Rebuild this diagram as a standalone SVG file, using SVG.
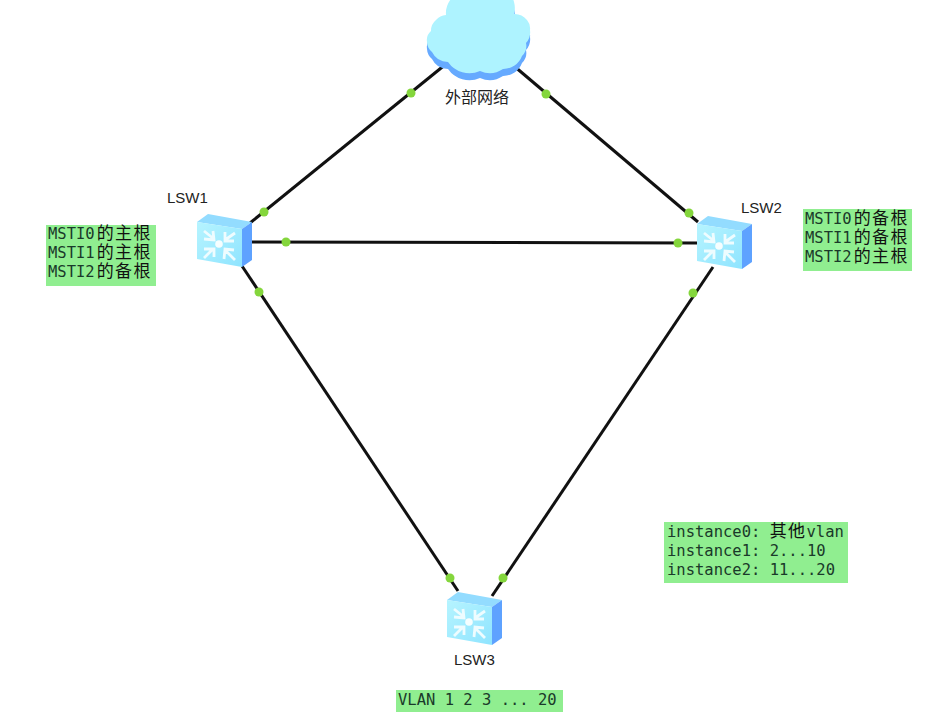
<svg xmlns="http://www.w3.org/2000/svg" width="929" height="725" viewBox="0 0 929 725">
<style>
.ln{stroke:#111;stroke-width:3;fill:none;stroke-linecap:butt}
.dot{fill:#84d63c}
.note{fill:#90ee90}
.lab{font-family:"Liberation Sans",Arial,"Noto Sans CJK SC",sans-serif;font-size:15px;fill:#222}
.cl{font-size:16px}
.m{font-family:"DejaVu Sans Mono","Liberation Mono","Noto Sans CJK SC",monospace;font-size:15.5px;fill:#1a3a2a}
.c{font-family:"Noto Sans CJK SC",sans-serif;font-size:17px;letter-spacing:1.4px;fill:#111}
.arm{stroke:#eefcff;stroke-width:2.8;fill:none}
</style>
<defs>
<linearGradient id="front" x1="0" y1="0" x2="1" y2="1"><stop offset="0" stop-color="#b6f4ff"/><stop offset="1" stop-color="#8fe4ff"/></linearGradient>
<path id="puff" d="M448,62 A18,18 0 0 1 432,52 A14,14 0 0 1 427,42 A12,12 0 0 1 431,31 A14,14 0 0 1 436,20 A14,14 0 0 1 446,15 A22,22 0 0 1 462,-8 L508,-8 A22,22 0 0 1 514,14 A16,16 0 0 1 527,20 A13,13 0 0 1 530,30 A16,16 0 0 1 526,43 A14,14 0 0 1 522,56 A20,20 0 0 1 503,69 A24,24 0 0 1 480,71 A26,26 0 0 1 448,62Z"/>
<g id="sw">
<polygon points="0,8 11,0 55,8 45,15" fill="#93dcff"/>
<polygon points="45,15 55,8 55,46 45,53" fill="#5ea2ff"/>
<polygon points="0,8 45,15 45,53 0,45" fill="url(#front)"/>
<circle cx="22" cy="30" r="3.8" fill="#f6feff"/>
<path class="arm" d="M7,17 L17,25 M7,25 L17,26 L16,17 M38,19 L28,26 M28,18 L28,27 L37,27 M7,44 L16,35 M7,35 L17,35 L17,43 M38,46 L28,36 M27,45 L28,35 L37,36"/>
</g>
</defs>
<rect width="929" height="725" fill="#fff"/>
<g id="connectors">
<path class="ln" d="M446,64 L250,223"/>
<path class="ln" d="M514,66 L698,222"/>
<path class="ln" d="M250,242 L697,243"/>
<path class="ln" d="M242,266 L458,591"/>
<path class="ln" d="M713,267 L492,596"/>
<circle class="dot" cx="411" cy="93" r="4.5"/><circle class="dot" cx="264" cy="212" r="4.5"/>
<circle class="dot" cx="546" cy="94" r="4.5"/><circle class="dot" cx="689" cy="213" r="4.5"/>
<circle class="dot" cx="286" cy="242" r="4.5"/><circle class="dot" cx="678" cy="243" r="4.5"/>
<circle class="dot" cx="259" cy="292" r="4.5"/><circle class="dot" cx="450" cy="578" r="4.5"/>
<circle class="dot" cx="693" cy="293" r="4.5"/><circle class="dot" cx="503" cy="578" r="4.5"/>
</g>
<g id="cloud">
<use href="#puff" y="7" fill="#66aaff"/>
<use href="#puff" fill="#aef3ff"/>
<text class="lab cl" x="445" y="103">外部网络</text>
</g>
<g id="lsw1"><use href="#sw" x="197" y="214"/><text class="lab" x="167" y="203">LSW1</text></g>
<g id="lsw2"><use href="#sw" x="697" y="216"/><text class="lab" x="741" y="213">LSW2</text></g>
<g id="lsw3"><use href="#sw" x="447" y="592"/><text class="lab" x="454" y="665">LSW3</text></g>
<g id="note1">
<rect class="note" x="46" y="225" width="110" height="61"/>
<text class="m" x="48" y="239">MSTI0<tspan class="c" dx="2">的主根</tspan></text>
<text class="m" x="48" y="258">MSTI1<tspan class="c" dx="2">的主根</tspan></text>
<text class="m" x="48" y="277">MSTI2<tspan class="c" dx="2">的备根</tspan></text>
</g>
<g id="note2">
<rect class="note" x="803" y="209" width="109" height="62"/>
<text class="m" x="805" y="224">MSTI0<tspan class="c" dx="2">的备根</tspan></text>
<text class="m" x="805" y="243">MSTI1<tspan class="c" dx="2">的备根</tspan></text>
<text class="m" x="805" y="262">MSTI2<tspan class="c" dx="2">的主根</tspan></text>
</g>
<g id="note3">
<rect class="note" x="664" y="522" width="184" height="61"/>
<text class="m" x="667" y="537" xml:space="preserve">instance0: <tspan class="c">其他</tspan>vlan</text>
<text class="m" x="667" y="556">instance1: 2...10</text>
<text class="m" x="667" y="575">instance2: 11...20</text>
</g>
<g id="note4">
<rect class="note" x="396" y="690" width="167" height="22"/>
<text class="m" x="398" y="705">VLAN 1 2 3 ... 20</text>
</g>
</svg>
